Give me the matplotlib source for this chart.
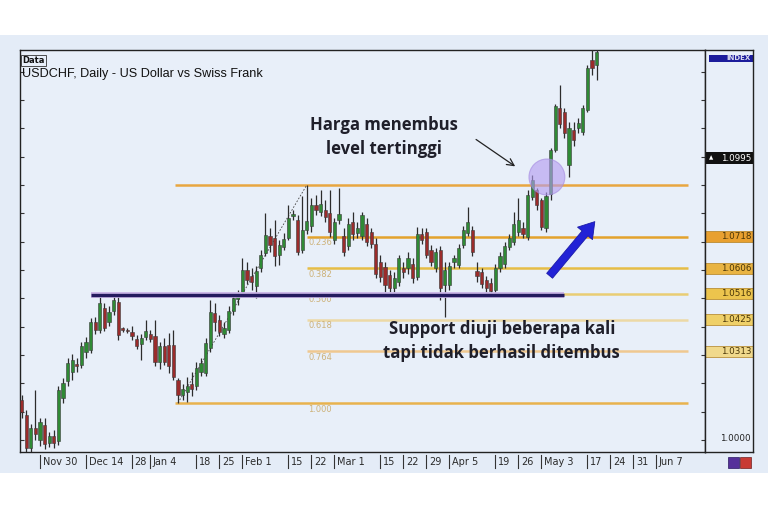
import matplotlib
matplotlib.use('Agg')
import matplotlib.pyplot as plt
import matplotlib.transforms as mtransforms
from matplotlib.patches import Rectangle, Ellipse
import numpy as np

# ---------------- data (USDCHF daily) ----------------
first_bar = -4  # bar index of first candle (Nov 30 = 0)
opens = [1.0141, 1.0088, 0.9972, 1.0043, 1.0000, 1.0053, 0.9989, 1.0014, 0.9996, 1.0148,
         1.0208, 1.0240, 1.0268, 1.0265, 1.0311, 1.0318, 1.0416, 1.0388, 1.0466, 1.0416,
         1.0455, 1.0487, 1.0395, 1.0388, 1.0381, 1.0356, 1.0339, 1.0363, 1.0374, 1.0367,
         1.0275, 1.0332, 1.0335, 1.0335, 1.0212, 1.0158, 1.0169, 1.0198, 1.0191, 1.0240,
         1.0236, 1.0325, 1.0448, 1.0423, 1.0374, 1.0388, 1.0455, 1.0497, 1.0522, 1.0600,
         1.0579, 1.0543, 1.0607, 1.0660, 1.0720, 1.0713, 1.0653, 1.0681, 1.0713, 1.0790,
         1.0776, 1.0670, 1.0741, 1.0755, 1.0829, 1.0805, 1.0812, 1.0801, 1.0706, 1.0776,
         1.0720, 1.0685, 1.0769, 1.0730, 1.0720, 1.0762, 1.0734, 1.0692, 1.0628, 1.0610,
         1.0582, 1.0536, 1.0558, 1.0607, 1.0607, 1.0621, 1.0575, 1.0727, 1.0734, 1.0670,
         1.0607, 1.0670, 1.0547, 1.0547, 1.0628, 1.0618, 1.0688, 1.0730, 1.0741, 1.0596,
         1.0593, 1.0565, 1.0554, 1.0529, 1.0607, 1.0621, 1.0681, 1.0699, 1.0734, 1.0748,
         1.0716, 1.0858, 1.0882, 1.0847, 1.0748, 1.0868, 1.1023, 1.1171, 1.1157, 1.0970,
         1.1094, 1.1101, 1.1087, 1.1164, 1.1341, 1.1323]
highs = [1.0158, 1.0106, 1.0057, 1.0176, 1.0078, 1.0078, 1.0028, 1.0035, 1.0191, 1.0219,
         1.0290, 1.0304, 1.0290, 1.0346, 1.0363, 1.0431, 1.0434, 1.0505, 1.0483, 1.0473,
         1.0508, 1.0508, 1.0399, 1.0395, 1.0402, 1.0370, 1.0374, 1.0423, 1.0388, 1.0423,
         1.0346, 1.0360, 1.0377, 1.0388, 1.0219, 1.0198, 1.0222, 1.0240, 1.0275, 1.0290,
         1.0360, 1.0494, 1.0483, 1.0441, 1.0416, 1.0473, 1.0515, 1.0529, 1.0642, 1.0628,
         1.0607, 1.0614, 1.0670, 1.0801, 1.0748, 1.0776, 1.0706, 1.0730, 1.0829, 1.0812,
         1.0794, 1.0861, 1.0900, 1.0854, 1.0865, 1.0882, 1.0847, 1.0882, 1.0783, 1.0889,
         1.0748, 1.0783, 1.0805, 1.0769, 1.0805, 1.0783, 1.0748, 1.0713, 1.0653, 1.0628,
         1.0600, 1.0593, 1.0653, 1.0628, 1.0663, 1.0642, 1.0752, 1.0748, 1.0748, 1.0688,
         1.0677, 1.0685, 1.0628, 1.0628, 1.0653, 1.0692, 1.0755, 1.0822, 1.0755, 1.0628,
         1.0607, 1.0579, 1.0572, 1.0621, 1.0663, 1.0699, 1.0727, 1.0805, 1.0854, 1.0769,
         1.0882, 1.0935, 1.0889, 1.0854, 1.0875, 1.1030, 1.1185, 1.1253, 1.1171, 1.1122,
         1.1122, 1.1136, 1.1182, 1.1323, 1.1400, 1.1394]
lows = [1.0078, 0.9944, 0.9944, 1.0000, 0.9979, 0.9968, 0.9975, 0.9972, 0.9982, 1.0130,
        1.0191, 1.0212, 1.0240, 1.0254, 1.0290, 1.0307, 1.0374, 1.0377, 1.0385, 1.0402,
        1.0441, 1.0353, 1.0381, 1.0377, 1.0353, 1.0321, 1.0282, 1.0353, 1.0346, 1.0261,
        1.0251, 1.0265, 1.0236, 1.0212, 1.0131, 1.0141, 1.0134, 1.0155, 1.0176, 1.0226,
        1.0226, 1.0311, 1.0385, 1.0367, 1.0360, 1.0377, 1.0441, 1.0476, 1.0508, 1.0550,
        1.0529, 1.0501, 1.0593, 1.0649, 1.0663, 1.0614, 1.0618, 1.0670, 1.0706, 1.0776,
        1.0653, 1.0660, 1.0727, 1.0734, 1.0794, 1.0790, 1.0769, 1.0716, 1.0692, 1.0762,
        1.0649, 1.0670, 1.0706, 1.0713, 1.0706, 1.0685, 1.0677, 1.0572, 1.0558, 1.0522,
        1.0522, 1.0522, 1.0543, 1.0572, 1.0586, 1.0554, 1.0565, 1.0692, 1.0642, 1.0614,
        1.0593, 1.0494, 1.0434, 1.0529, 1.0607, 1.0607, 1.0677, 1.0720, 1.0649, 1.0558,
        1.0536, 1.0522, 1.0515, 1.0518, 1.0593, 1.0607, 1.0670, 1.0688, 1.0720, 1.0713,
        1.0706, 1.0847, 1.0812, 1.0741, 1.0734, 1.0847, 1.1016, 1.1101, 1.1066, 1.0928,
        1.1037, 1.1083, 1.1076, 1.1157, 1.1288, 1.1270]
closes = [1.0099, 0.9972, 1.0043, 1.0021, 1.0064, 0.9986, 1.0014, 0.9989, 1.0176, 1.0201,
          1.0271, 1.0282, 1.0261, 1.0332, 1.0346, 1.0416, 1.0388, 1.0483, 1.0395, 1.0452,
          1.0494, 1.0370, 1.0388, 1.0385, 1.0367, 1.0332, 1.0360, 1.0385, 1.0356, 1.0275,
          1.0332, 1.0275, 1.0261, 1.0222, 1.0158, 1.0180, 1.0191, 1.0180, 1.0254, 1.0271,
          1.0342, 1.0452, 1.0416, 1.0381, 1.0395, 1.0455, 1.0501, 1.0515, 1.0600, 1.0565,
          1.0558, 1.0596, 1.0653, 1.0723, 1.0688, 1.0649, 1.0688, 1.0709, 1.0783, 1.0797,
          1.0663, 1.0741, 1.0773, 1.0829, 1.0812, 1.0833, 1.0787, 1.0734, 1.0769, 1.0797,
          1.0663, 1.0762, 1.0727, 1.0748, 1.0794, 1.0699, 1.0692, 1.0586, 1.0575, 1.0547,
          1.0536, 1.0572, 1.0642, 1.0593, 1.0642, 1.0572, 1.0727, 1.0706, 1.0653, 1.0628,
          1.0663, 1.0536, 1.0600, 1.0614, 1.0642, 1.0677, 1.0741, 1.0769, 1.0663, 1.0579,
          1.0551, 1.0536, 1.0526, 1.0607, 1.0649, 1.0685, 1.0713, 1.0762, 1.0776, 1.0727,
          1.0865, 1.0917, 1.0829, 1.0752, 1.0861, 1.1023, 1.1178, 1.1115, 1.1083, 1.1101,
          1.1059, 1.1118, 1.1171, 1.1313, 1.1313, 1.1369]

date_labels = ['Nov 30', 'Dec 14', '28', 'Jan 4', '18', '25', 'Feb 1', '15', '22', 'Mar 1',
               '15', '22', '29', 'Apr 5', '19', '26', 'May 3', '17', '24', '31', 'Jun 7']
date_pos = [0, 10, 20, 24, 34, 39, 44, 54, 59, 64, 74, 79, 84, 89, 99, 104, 109, 119, 124, 129, 134]

fib_prices = [1.0900, 1.0718, 1.0606, 1.0516, 1.0425, 1.0313, 1.0131]
fib_ratio_labels = ['', '0.236', '0.382', '0.500', '0.618', '0.764', '1.000']
fib_low_bar, fib_high_bar = 30, 58
axis_box_values = [1.0718, 1.0606, 1.0516, 1.0425, 1.0313]
current_price = 1.0995
support_level = 1.0512
support_start, support_end = 11, 114

# ---------------- style ----------------
panel_bg = '#e4ecf7'
plot_bg = '#e8eff9'
up_col = '#2f8a35'
down_col = '#9a2b2b'
wick_col = '#2c2c2c'
fib_line_cols = ['#e8a640', '#e3a22c', '#e6bd46', '#e9cd74', '#ecd9a6', '#efc890', '#e8b24e']
box_cols = ['#e8a030', '#e9b443', '#ecc44d', '#efd068', '#f0d98c']

fig = plt.figure(figsize=(7.68, 5.12), dpi=100)
fig.patch.set_facecolor('white')
fig.patches.append(Rectangle((0, 39 / 512), 1, 438 / 512, transform=fig.transFigure,
                             facecolor=panel_bg, edgecolor='none', zorder=-10))

ax = fig.add_axes([20 / 768, 60 / 512, 685 / 768, 402 / 512])
ax.set_facecolor(plot_bg)
ymin, ymax = 0.99577, 1.13761
ax.set_ylim(ymin, ymax)
ax.set_xlim(-4.35, 144.57)

# fib lines
fib_start_full = fib_low_bar - 0.7
fib_start_mid = fib_high_bar
fib_end = 140.9
for k, (p, lab) in enumerate(zip(fib_prices, fib_ratio_labels)):
    xs = fib_start_full if k in (0, len(fib_prices) - 1) else fib_start_mid
    ax.hlines(p, xs, fib_end, color=fib_line_cols[k], lw=1.8, zorder=3)
    if lab:
        ax.text(fib_start_mid + 0.3, p - 0.0006, lab, fontsize=6, color='#cdb27a',
                va='top', ha='left', family='DejaVu Sans', zorder=3)

# trend dashed line of the fib tool
ax.plot([fib_low_bar, fib_high_bar], [lows[fib_low_bar - first_bar], highs[fib_high_bar - first_bar]],
        ls=(0, (2, 2)), color='#444444', lw=0.6, zorder=4)

# candles
for k in range(len(opens)):
    x = first_bar + k
    o, h, l, c = opens[k], highs[k], lows[k], closes[k]
    col = up_col if c >= o else down_col
    ax.vlines(x, l, h, color=wick_col, lw=0.9, zorder=5)
    ax.add_patch(Rectangle((x - 0.33, min(o, c)), 0.66, max(abs(c - o), 0.00025),
                           facecolor=col, edgecolor='#3a3a3a', lw=0.4, zorder=6))

# support line
ax.hlines(support_level, support_start, support_end, color='#cbb6e6', lw=4.2, zorder=7)
ax.hlines(support_level, support_start, support_end, color='#241b5e', lw=2.4, zorder=8)

# ticks
yt = np.arange(1.00, 1.131, 0.01)
ax.set_yticks(yt)
ax.tick_params(axis='y', direction='in', length=3, width=0.8, left=True, right=True,
               labelleft=False, labelright=False, color='#333333')
ax.set_xticks([])
for s in ax.spines.values():
    s.set_color('#222222')
    s.set_linewidth(1.0)

# breakout circle
ax.add_patch(Ellipse((110.2, 1.0928), 7.8, 0.0127, facecolor='#b39cf0', alpha=0.62,
                     edgecolor='#a58ae0', lw=0.8, zorder=9))

# blue fat arrow
ax.annotate('', xy=(121.0, 1.0778), xytext=(110.4, 1.0572),
            arrowprops=dict(arrowstyle='simple,head_length=1.1,head_width=1.4,tail_width=0.55',
                            facecolor='#2222d6', edgecolor='#1a1aa8', lw=0.6),
            zorder=10)
# thin black arrow
ax.annotate('', xy=(103.8, 1.0960), xytext=(94.3, 1.1066),
            arrowprops=dict(arrowstyle='->,head_length=0.5,head_width=0.25', color='#222222', lw=0.9),
            zorder=10)

ann_font = dict(family=['Open Sans', 'DejaVu Sans'], fontweight='bold', fontsize=12.1, color='#1f1f2a')
ax.text(74.8, 1.1069, 'Harga menembus\nlevel tertinggi', ha='center', va='center',
        linespacing=1.45, zorder=11, **ann_font)
ax.text(100.4, 1.0349, 'Support diuji beberapa kali\ntapi tidak berhasil ditembus', ha='center',
        va='center', linespacing=1.45, zorder=11, **ann_font)

# title texts
ax.text(0.003, 0.985, 'Data', transform=ax.transAxes, fontsize=6, fontweight='bold',
        family='DejaVu Sans', va='top', ha='left', color='#111111',
        bbox=dict(boxstyle='square,pad=0.15', facecolor='none', edgecolor='#333333', lw=0.6))
ax.text(0.003, 0.955, 'USDCHF, Daily - US Dollar vs Swiss Frank', transform=ax.transAxes,
        fontsize=9.1, family='Liberation Sans', va='top', ha='left', color='#111111')

# date labels with separators
trans = mtransforms.blended_transform_factory(ax.transData, ax.transAxes)
for pos, lab in zip(date_pos, date_labels):
    ax.plot([pos, pos], [-0.008, -0.040], transform=trans, color='#333333', lw=0.8, clip_on=False)
    ax.text(pos + 0.55, -0.024, lab, transform=trans, fontsize=7, family='DejaVu Sans',
            color='#2a2a2a', va='center', ha='left', clip_on=False)

# right price axis
ax2 = fig.add_axes([705 / 768, 60 / 512, 48 / 768, 402 / 512])
ax2.set_facecolor(plot_bg)
ax2.set_ylim(ymin, ymax)
ax2.set_xlim(0, 1)
ax2.set_xticks([])
ax2.set_yticks([])
for s in ax2.spines.values():
    s.set_color('#222222')
    s.set_linewidth(1.0)
bh = 0.0039
for v, col in zip(axis_box_values, box_cols):
    ax2.add_patch(Rectangle((0.0, v - bh / 2), 1.0, bh, facecolor=col, edgecolor='#b08020', lw=0.5))
    ax2.text(0.96, v, f'{v:.4f}', fontsize=6.3, ha='right', va='center', color='#4a3608',
             family='DejaVu Sans')
ax2.add_patch(Rectangle((0.0, current_price - bh / 2), 1.0, bh, facecolor='#111111', edgecolor='none'))
ax2.text(0.96, current_price, f'{current_price:.4f}', fontsize=6.3, ha='right', va='center',
         color='white', family='DejaVu Sans')
ax2.text(0.08, current_price, '\u25B2', fontsize=4, ha='left', va='center', color='white',
         family='DejaVu Sans')
ax2.text(0.96, 1.0007, '1.0000', fontsize=6.3, ha='right', va='center', color='#222222',
         family='DejaVu Sans')
ax2.add_patch(Rectangle((0.08, 1.1335), 0.92, 0.0024, facecolor='#1c1c9c', edgecolor='none'))
ax2.text(0.96, 1.1347, 'INDEX', fontsize=5, ha='right', va='center', color='#dcdcf0',
         fontweight='bold', family='DejaVu Sans')

# small icons bottom right
fig.patches.append(Rectangle((728 / 768, (512 - 468) / 512), 11 / 768, 11 / 512,
                             transform=fig.transFigure, facecolor='#55309a', edgecolor='#2a1860', lw=0.5))
fig.patches.append(Rectangle((740 / 768, (512 - 468) / 512), 11 / 768, 11 / 512,
                             transform=fig.transFigure, facecolor='#c83a34', edgecolor='#702020', lw=0.5))

fig.savefig('out.png', dpi=100, facecolor=fig.get_facecolor())
